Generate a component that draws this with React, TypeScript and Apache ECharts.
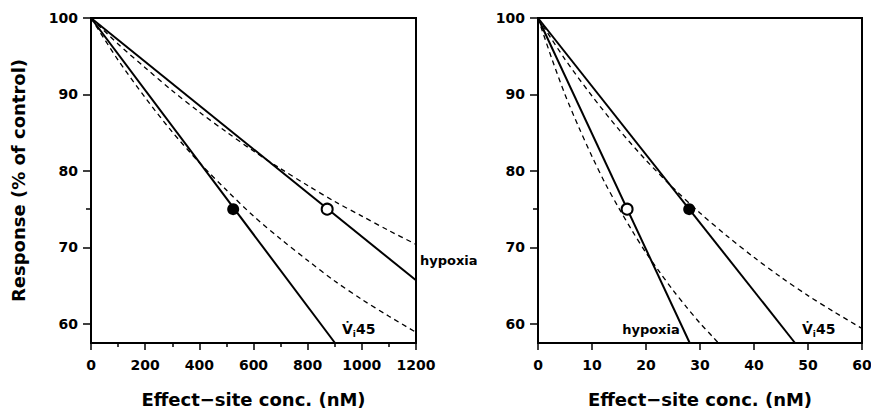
import React, { useEffect, useRef } from 'react';
import * as echarts from 'echarts';

// ---- Left panel data (nM) ----
const leftConc = [0, 100, 200, 300, 400, 500, 600, 700, 800, 900, 1000, 1100, 1200];
const leftHypoxiaFit = [100, 96.6, 93.5, 90.5, 87.7, 85.1, 82.6, 80.3, 78.1, 76.0, 74.1, 72.2, 70.4];
const leftV45Fit = [100, 94.5, 89.6, 85.1, 81.1, 77.5, 74.1, 71.1, 68.3, 65.6, 63.2, 61.0, 58.9];
const leftHypoxiaLineX = [0, 1200];
const leftHypoxiaLineY = [100, 65.7];
const leftV45LineX = [0, 901];
const leftV45LineY = [100, 57.5];
const leftHypoxiaPoint = [872, 75];
const leftV45Point = [525, 75];

// ---- Right panel data (nM) ----
const rightConcV45 = [0, 5, 10, 15, 20, 25, 30, 35, 40, 45, 50, 55, 60];
const rightV45Fit = [100, 94.6, 89.8, 85.4, 81.4, 77.8, 74.5, 71.5, 68.7, 66.1, 63.7, 61.5, 59.4];
const rightConcHypoxia = [0, 2.5, 5, 7.5, 10, 12.5, 15, 17.5, 20, 22.5, 25, 27.5, 30, 32.5, 33.4];
const rightHypoxiaFit = [100, 94.8, 90.0, 85.8, 81.9, 78.3, 75.1, 72.1, 69.3, 66.8, 64.4, 62.2, 60.1, 58.2, 57.5];
const rightHypoxiaLineX = [0, 28.1];
const rightHypoxiaLineY = [100, 57.5];
const rightV45LineX = [0, 47.6];
const rightV45LineY = [100, 57.5];
const rightHypoxiaPoint = [16.5, 75];
const rightV45Point = [28, 75];

// ---- Axes ----
const yLabelValues = [60, 70, 80, 90, 100];
const yMinorValues = [75];
const yMin = 57.5;
const yMax = 100;
const leftXMax = 1200;
const rightXMax = 60;

const FONT = '"DejaVu Sans", sans-serif';
const zip = (xs: number[], ys: number[]) => xs.map((x, i) => [x, ys[i]]);

const vLabel = {
  formatter: '{v|V\u0307}{s|i}{v|45}',
  rich: {
    v: { fontFamily: FONT, fontWeight: 'bold', fontSize: 14, color: '#000' },
    s: { fontFamily: FONT, fontWeight: 'bold', fontSize: 9, color: '#000', padding: [9, 0, 0, 0] },
  },
};

function endMark(x: number, y: number, label: any) {
  return {
    symbol: 'circle',
    symbolSize: 0,
    silent: true,
    data: [{ coord: [x, y], label: { show: true, color: '#000', fontFamily: FONT, fontWeight: 'bold', fontSize: 13, ...label } }],
  };
}

export default function App() {
  const ref = useRef<HTMLDivElement>(null);
  useEffect(() => {
    if (!ref.current) return;
    const chart = echarts.init(ref.current, undefined, { renderer: 'svg' });

    const xAxisBase = (gridIndex: number, max: number, interval: number, minor: boolean) => ({
      type: 'value',
      gridIndex,
      min: 0,
      max,
      interval,
      name: 'Effect\u2212site conc. (nM)',
      nameLocation: 'middle',
      nameGap: 47,
      nameTextStyle: { fontFamily: FONT, fontWeight: 'bold', fontSize: 18, color: '#000' },
      axisLine: { show: true, onZero: false, lineStyle: { color: '#000', width: 2 } },
      axisTick: { show: true, inside: false, length: 7, lineStyle: { color: '#000', width: 1.5 } },
      minorTick: { show: minor, splitNumber: 2, length: 4, lineStyle: { color: '#000', width: 1.5 } },
      axisLabel: { formatter: (v: number) => String(v), fontFamily: FONT, fontWeight: 'bold', fontSize: 14, color: '#000', margin: 15 },
      splitLine: { show: false },
      minorSplitLine: { show: false },
    });

    const yAxisBase = (gridIndex: number, withName: boolean) => ({
      type: 'value',
      gridIndex,
      min: yMin,
      max: yMax,
      position: 'left',
      name: withName ? 'Response (% of control)' : '',
      nameLocation: 'middle',
      nameGap: 64,
      nameTextStyle: { fontFamily: FONT, fontWeight: 'bold', fontSize: 18, color: '#000' },
      axisLine: { show: true, onZero: false, lineStyle: { color: '#000', width: 2 } },
      axisTick: { show: true, length: 8, customValues: yLabelValues, lineStyle: { color: '#000', width: 1.5 } },
      axisLabel: { customValues: yLabelValues, formatter: (v: number) => String(v), fontFamily: FONT, fontWeight: 'bold', fontSize: 14, color: '#000', margin: 13 },
      splitLine: { show: false },
    });

    const yMinorAxis = (gridIndex: number) => ({
      type: 'value',
      gridIndex,
      min: yMin,
      max: yMax,
      position: 'left',
      axisLine: { show: false },
      axisTick: { show: true, length: 5, customValues: yMinorValues, lineStyle: { color: '#000', width: 1.5 } },
      axisLabel: { show: false },
      splitLine: { show: false },
    });

    const solid = { color: '#000', width: 2 };
    const dashed = { color: '#000', width: 1.3, type: [5, 4] };

    const option: any = {
      animation: false,
      backgroundColor: '#fff',
      grid: [
        { left: 91, top: 18, width: 325, height: 325, show: true, borderColor: '#000', borderWidth: 2, backgroundColor: 'transparent', outerBoundsMode: 'none', containLabel: false },
        { left: 538, top: 18, width: 324, height: 325, show: true, borderColor: '#000', borderWidth: 2, backgroundColor: 'transparent', outerBoundsMode: 'none', containLabel: false },
      ],
      xAxis: [xAxisBase(0, leftXMax, 200, true), xAxisBase(1, rightXMax, 10, false)],
      yAxis: [yAxisBase(0, true), yMinorAxis(0), yAxisBase(1, false), yMinorAxis(1)],
      series: [
        // left panel
        { type: 'line', xAxisIndex: 0, yAxisIndex: 0, data: zip(leftConc, leftHypoxiaFit), smooth: 0.3, symbol: 'none', lineStyle: dashed },
        { type: 'line', xAxisIndex: 0, yAxisIndex: 0, data: zip(leftConc, leftV45Fit), smooth: 0.3, symbol: 'none', lineStyle: dashed },
        {
          type: 'line', xAxisIndex: 0, yAxisIndex: 0, data: zip(leftHypoxiaLineX, leftHypoxiaLineY), symbol: 'none', lineStyle: solid,
          markPoint: endMark(leftHypoxiaLineX[1], leftHypoxiaLineY[1], { position: 'right', distance: 4, offset: [0, -20], formatter: 'hypoxia' }),
        },
        {
          type: 'line', xAxisIndex: 0, yAxisIndex: 0, data: zip(leftV45LineX, leftV45LineY), symbol: 'none', lineStyle: solid,
          markPoint: endMark(leftV45LineX[1], leftV45LineY[1], { position: 'right', distance: 5, offset: [2, -14], ...vLabel }),
        },
        { type: 'scatter', xAxisIndex: 0, yAxisIndex: 0, data: [leftHypoxiaPoint], symbol: 'circle', symbolSize: 11, itemStyle: { color: '#fff', borderColor: '#000', borderWidth: 2, opacity: 1 }, z: 5 },
        { type: 'scatter', xAxisIndex: 0, yAxisIndex: 0, data: [leftV45Point], symbol: 'circle', symbolSize: 12, itemStyle: { color: '#000', opacity: 1 }, z: 5 },
        // right panel
        { type: 'line', xAxisIndex: 1, yAxisIndex: 2, data: zip(rightConcV45, rightV45Fit), smooth: 0.3, symbol: 'none', lineStyle: dashed },
        { type: 'line', xAxisIndex: 1, yAxisIndex: 2, data: zip(rightConcHypoxia, rightHypoxiaFit), smooth: 0.3, symbol: 'none', lineStyle: dashed },
        {
          type: 'line', xAxisIndex: 1, yAxisIndex: 2, data: zip(rightHypoxiaLineX, rightHypoxiaLineY), symbol: 'none', lineStyle: solid,
          markPoint: endMark(rightHypoxiaLineX[1], rightHypoxiaLineY[1], { position: 'left', distance: 5, offset: [-5, -14], formatter: 'hypoxia' }),
        },
        {
          type: 'line', xAxisIndex: 1, yAxisIndex: 2, data: zip(rightV45LineX, rightV45LineY), symbol: 'none', lineStyle: solid,
          markPoint: endMark(rightV45LineX[1], rightV45LineY[1], { position: 'right', distance: 5, offset: [2, -14], ...vLabel }),
        },
        { type: 'scatter', xAxisIndex: 1, yAxisIndex: 2, data: [rightHypoxiaPoint], symbol: 'circle', symbolSize: 11, itemStyle: { color: '#fff', borderColor: '#000', borderWidth: 2, opacity: 1 }, z: 5 },
        { type: 'scatter', xAxisIndex: 1, yAxisIndex: 2, data: [rightV45Point], symbol: 'circle', symbolSize: 12, itemStyle: { color: '#000', opacity: 1 }, z: 5 },
      ],
    };
    chart.setOption(option);
    return () => chart.dispose();
  }, []);

  return <div ref={ref} style={{ position: 'fixed', left: 0, top: 0, width: 871, height: 412 }} />;
}
